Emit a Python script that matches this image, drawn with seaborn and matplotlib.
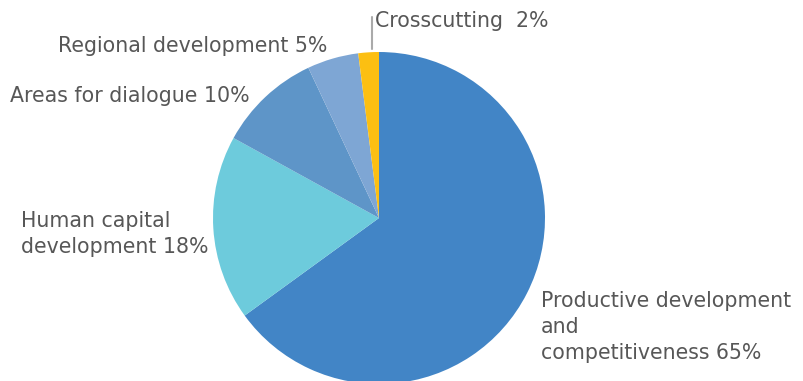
import matplotlib
matplotlib.use("Agg")
import matplotlib.pyplot as plt
import seaborn as sns

sns.set_theme(style="white")
plt.rcParams['font.family'] = ['DejaVu Sans']

categories = ["Productive development and competitiveness", "Human capital development",
              "Areas for dialogue", "Regional development", "Crosscutting"]
values = [65, 18, 10, 5, 2]
colors = ["#4285c6", "#6dcbdc", "#5e95c8", "#7ea6d4", "#fcbf12"]
labels = ["Productive development\nand\ncompetitiveness 65%",
          "Human capital\ndevelopment 18%",
          "Areas for dialogue 10%",
          "Regional development 5%",
          "Crosscutting  2%"]

W, H = 804, 381
fig = plt.figure(figsize=(W / 100, H / 100), dpi=100)
cx, cy, r = 379, 218, 166
ax = fig.add_axes([(cx - r) / W, (H - cy - r) / H, 2 * r / W, 2 * r / H])
ax.pie(values, colors=colors, startangle=90, counterclock=False,
       wedgeprops=dict(linewidth=0))
ax.set_xlim(-1, 1)
ax.set_ylim(-1, 1)
ax.set_aspect("auto")
ax.axis("off")

tc = "#575757"
fs = 14.8
def put(x, y, s):
    # y is the baseline of the last line
    fig.text(x / W, 1 - y / H, s, color=tc, fontsize=fs, va="baseline", ha="left",
             linespacing=1.36)

put(541, 359, labels[0])
put(21, 253, labels[1])
put(10, 102, labels[2])
put(58, 52, labels[3])
put(375, 27, labels[4])

# leader line for crosscutting
fig.add_artist(plt.Line2D([372 / W, 372 / W], [1 - 17 / H, 1 - 49 / H],
                          color="#aaaaaa", linewidth=1.5))

fig.savefig("out.png", dpi=100)
